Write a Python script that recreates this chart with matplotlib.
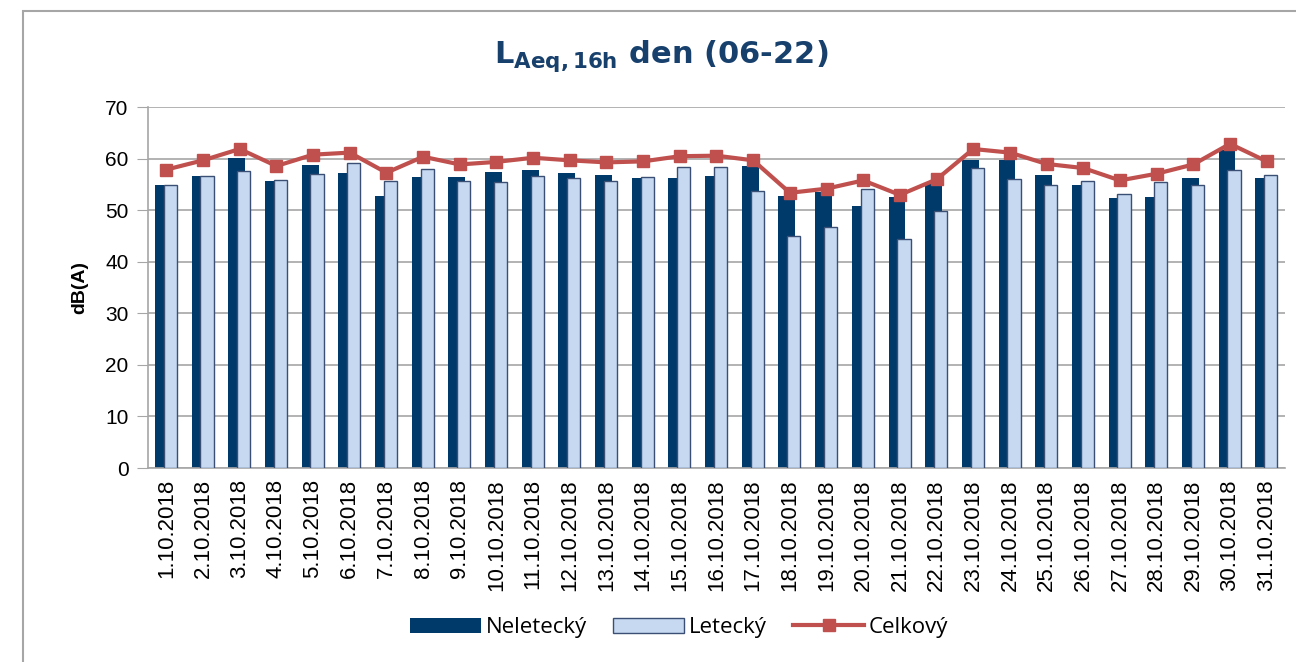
import numpy as np
import matplotlib
matplotlib.use('Agg')
from matplotlib import pyplot as plt
from matplotlib.patches import Rectangle

dates = ['%d.10.2018' % d for d in range(1, 32)]

neletecky = [55.0, 56.7, 60.1, 55.7, 58.7, 57.3, 52.8, 56.5, 56.4, 57.5,
             57.9, 57.3, 56.8, 56.3, 56.2, 56.6, 58.6, 52.8, 53.5, 50.9,
             52.6, 55.1, 59.7, 59.7, 56.9, 54.9, 52.3, 52.5, 56.3, 61.7, 56.3]
letecky = [54.9, 56.6, 57.6, 55.9, 57.1, 59.1, 55.6, 58.1, 55.6, 55.4,
           56.6, 56.3, 55.7, 56.4, 58.5, 58.4, 53.7, 45.1, 46.7, 54.2,
           44.4, 49.8, 58.2, 56.1, 54.9, 55.7, 53.1, 55.4, 55.0, 57.8, 56.8]
celkovy = [57.9, 59.7, 61.9, 58.6, 60.8, 61.2, 57.3, 60.4, 58.9, 59.4,
           60.2, 59.7, 59.3, 59.5, 60.5, 60.6, 59.7, 53.4, 54.2, 55.8,
           53.0, 56.0, 61.9, 61.2, 59.0, 58.2, 55.8, 57.1, 58.9, 62.9, 59.5]

x = np.arange(len(dates))

fig = plt.figure(figsize=(12.96, 6.62), dpi=100)
ax = fig.add_axes([0.1142, 0.293, 0.8773, 0.545])

# outer chart border
fig.patches.append(Rectangle((23 / 1296, -0.1), 1.2, 1 - 11 / 662 + 0.1,
                             transform=fig.transFigure, fill=False,
                             edgecolor='#a6a6a6', linewidth=1.5))

b1 = ax.bar(x - 0.08, neletecky, width=0.46, color='#003A6B', zorder=2,
            label='Neletecký')
b2 = ax.bar(x + 0.11, letecky, width=0.36, color='#C6D9F1', edgecolor='#3A4F73',
            linewidth=1, zorder=3, label='Letecký')
l1, = ax.plot(x, celkovy, color='#C0504D', linewidth=3, marker='s', markersize=9,
              zorder=4, label='Celkový')

ax.set_xlim(-0.5, len(dates) - 0.5)
ax.set_ylim(0, 70)
ax.set_yticks(range(0, 71, 10))
ax.set_xticks(x)
ax.set_xticklabels(dates, rotation=90, fontsize=16, family='Liberation Sans')
for lab in ax.get_yticklabels():
    lab.set_fontsize(15)
    lab.set_family('Liberation Sans')
ax.tick_params(axis='x', length=0, pad=8)
ax.tick_params(axis='y', length=8, color='#a6a6a6', pad=6)

ax.grid(axis='y', color='#a6a6a6', linewidth=1.2, zorder=0)
ax.set_axisbelow(True)
for s in ['top', 'right']:
    ax.spines[s].set_visible(False)
ax.spines['left'].set_color('#a6a6a6')
ax.spines['bottom'].set_color('#a6a6a6')
ax.spines['left'].set_linewidth(1.2)
ax.spines['bottom'].set_linewidth(1.2)

ax.set_ylabel('dB(A)', fontsize=14, fontweight='bold', family='Liberation Sans',
              labelpad=12)

fig.text(0.51, 0.915, r'L$_{\mathbf{Aeq,16h}}$ den (06-22)', ha='center',
         va='center', fontsize=22, fontweight='bold', color='#17406D')

fig.legend([b1, b2, l1], ['Neletecký', 'Letecký', 'Celkový'],
           loc='center', bbox_to_anchor=(0.524, 0.052), ncol=3, frameon=False,
           handlelength=3.2, columnspacing=1.2, handletextpad=0.2,
           prop={'family': 'Open Sans', 'size': 16})

fig.savefig('out.png', dpi=100)
